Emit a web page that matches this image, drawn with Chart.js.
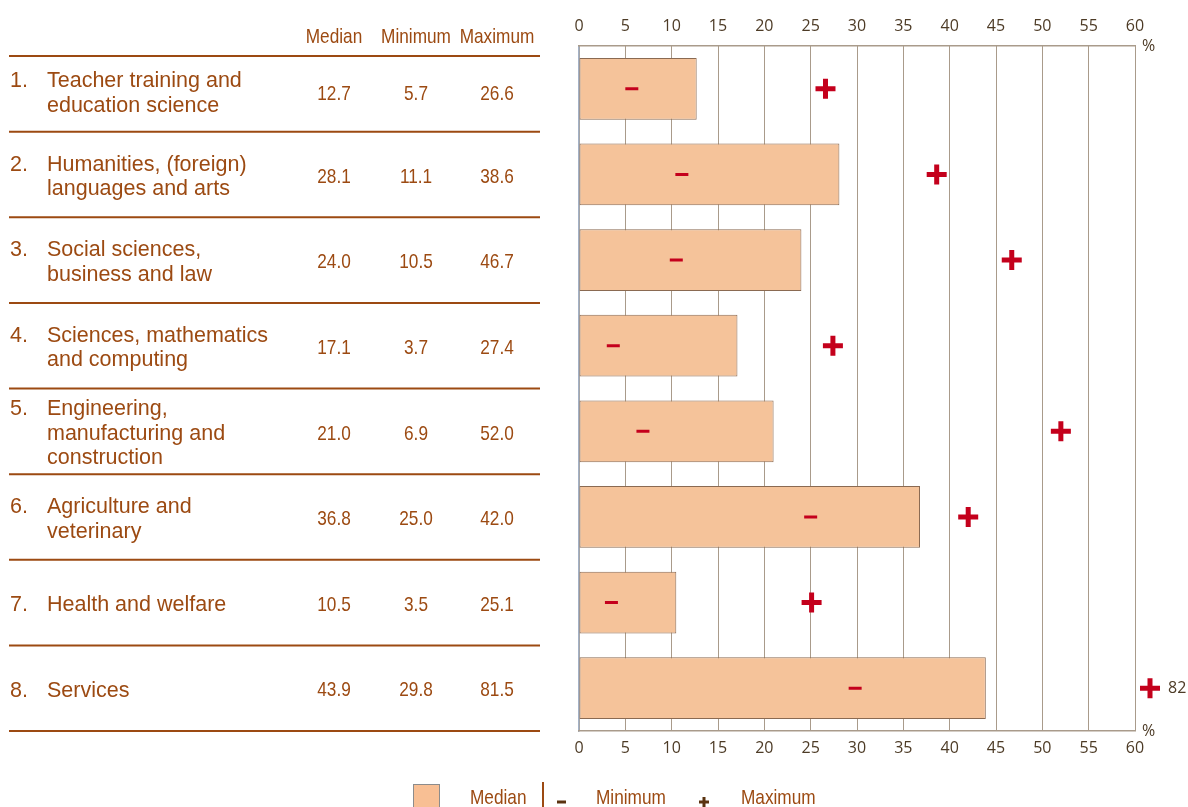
<!DOCTYPE html>
<html>
<head>
<meta charset="utf-8">
<script src="https://cdn.jsdelivr.net/npm/chart.js@4.4.1/dist/chart.umd.min.js"></script>
<style>
  body { margin: 0; background: #fff; }
  canvas { display: block; }
</style>
</head>
<body>
<canvas id="chart" width="1188" height="807"></canvas>
<script>
// values
const fields = [
  ['Teacher training and', 'education science'],
  ['Humanities, (foreign)', 'languages and arts'],
  ['Social sciences,', 'business and law'],
  ['Sciences, mathematics', 'and computing'],
  ['Engineering,', 'manufacturing and', 'construction'],
  ['Agriculture and', 'veterinary'],
  ['Health and welfare'],
  ['Services']
];
const medians = [12.7, 28.1, 24.0, 17.1, 21.0, 36.8, 10.5, 43.9];
const minimums = [5.7, 11.1, 10.5, 3.7, 6.9, 25.0, 3.5, 29.8];
const maximums = [26.6, 38.6, 46.7, 27.4, 52.0, 42.0, 25.1, 81.5];
const tableHeaders = ['Median', 'Minimum', 'Maximum'];
const legendLabels = ['Median', 'Minimum', 'Maximum'];

const BROWN = '#9c4a12';
const RED = '#c4001c';
const TICK = '#4d3b26';
const SANS = '"Liberation Sans", Arial, sans-serif';
const TICKFONT = '"Open Sans", "Noto Sans", sans-serif';

const labels = fields.map((f, i) => (i + 1) + '.');

// no narrow face installed, so squeeze the regular one
function narrowText(ctx, text, x, y, size) {
  ctx.save();
  ctx.font = size + 'px ' + SANS;
  ctx.translate(x, y);
  ctx.scale(0.82, 1);
  ctx.fillText(text, 0, 0);
  ctx.restore();
}

// left hand table: names + numbers, aligned to the category rows
const tablePlugin = {
  id: 'table',
  afterDraw(chart) {
    const ctx = chart.ctx;
    const y = chart.scales.y;
    const cols = [334, 416, 497];
    ctx.save();
    ctx.fillStyle = BROWN;
    ctx.textBaseline = 'middle';

    ctx.textAlign = 'center';
    tableHeaders.forEach((h, i) => narrowText(ctx, h, cols[i], 37, 21));

    ctx.strokeStyle = BROWN;
    ctx.lineWidth = 2;
    const rule = yy => { ctx.beginPath(); ctx.moveTo(9, yy); ctx.lineTo(540, yy); ctx.stroke(); };

    let top = 56;
    rule(top);
    fields.forEach((lines, i) => {
      const cy = y.getPixelForValue(i);
      const next = i < fields.length - 1 ? y.getPixelForValue(i + 1) : cy + (cy - y.getPixelForValue(i - 1));
      const bottom = (cy + next) / 2;
      // first row sits under the thicker header gap, the rest follow the bars
      const mid = i === 0 ? (top + bottom) / 2 - 1 : cy + 1.5;

      ctx.font = '21.5px ' + SANS;
      ctx.textAlign = 'left';
      const lh = 24.5;
      const y0 = mid + 1 - (lines.length - 1) * lh / 2;
      ctx.fillText(labels[i], 10, y0);
      lines.forEach((t, k) => ctx.fillText(t, 47, y0 + k * lh));

      ctx.textAlign = 'center';
      [medians[i], minimums[i], maximums[i]].forEach((v, k) => narrowText(ctx, v.toFixed(1), cols[k], mid + 1, 21));

      rule(bottom);
      top = bottom;
    });

    // percent signs and overflow marker
    const area = chart.chartArea;
    ctx.fillStyle = TICK;
    ctx.font = '16px ' + TICKFONT;
    ctx.textAlign = 'left';
    ctx.fillText('%', area.right + 7, area.top);
    ctx.fillText('%', area.right + 7, area.bottom);

    const x = chart.scales.x;
    maximums.forEach((v, i) => {
      if (v <= x.max) return;
      const px = area.right + 15, py = y.getPixelForValue(i);
      ctx.strokeStyle = RED;
      ctx.lineWidth = 5;
      ctx.beginPath();
      ctx.moveTo(px - 10, py); ctx.lineTo(px + 10, py);
      ctx.moveTo(px, py - 10); ctx.lineTo(px, py + 10);
      ctx.stroke();
      ctx.fillStyle = TICK;
      ctx.fillText(Math.round(v), px + 18, py);
    });

    // legend along the bottom edge
    ctx.fillStyle = '#f8bf94';
    ctx.fillRect(413, 784, 27, 26);
    ctx.strokeStyle = '#8c8c8c';
    ctx.lineWidth = 1;
    ctx.strokeRect(413.5, 784.5, 26, 26);
    ctx.fillStyle = BROWN;
    narrowText(ctx, legendLabels[0], 470, 798, 21);
    narrowText(ctx, legendLabels[1], 596, 798, 21);
    narrowText(ctx, legendLabels[2], 741, 798, 21);
    ctx.strokeStyle = BROWN;
    ctx.lineWidth = 2;
    ctx.beginPath(); ctx.moveTo(543, 782); ctx.lineTo(543, 807); ctx.stroke();
    ctx.strokeStyle = '#5a3310';
    ctx.lineWidth = 3;
    ctx.beginPath(); ctx.moveTo(557, 802); ctx.lineTo(566, 802); ctx.stroke();
    ctx.beginPath();
    ctx.moveTo(699, 802); ctx.lineTo(709, 802);
    ctx.moveTo(704, 797); ctx.lineTo(704, 807);
    ctx.stroke();
    ctx.restore();
  }
};

new Chart(document.getElementById('chart'), {
  type: 'bar',
  data: {
    labels: labels,
    datasets: [
      {
        label: 'Median',
        data: medians,
        backgroundColor: '#f5c39a',
        borderColor: '#8a6a52',
        borderWidth: 1,
        borderSkipped: false,
        categoryPercentage: 1,
        barPercentage: 0.72,
        order: 2
      },
      {
        label: 'Minimum',
        type: 'line',
        indexAxis: 'y',
        data: minimums,
        showLine: false,
        pointStyle: 'line',
        pointRadius: 6.5,
        pointBorderWidth: 3,
        pointBorderColor: RED,
        pointBackgroundColor: RED,
        order: 1
      },
      {
        label: 'Maximum',
        type: 'line',
        indexAxis: 'y',
        data: maximums,
        showLine: false,
        pointStyle: 'cross',
        pointRadius: 10,
        pointBorderWidth: 5,
        pointBorderColor: RED,
        pointBackgroundColor: RED,
        order: 0
      }
    ]
  },
  options: {
    indexAxis: 'y',
    responsive: false,
    animation: false,
    layout: { padding: { left: 0, right: 53, top: 0, bottom: 0 } },
    plugins: {
      legend: { display: false },
      tooltip: { enabled: false }
    },
    scales: {
      y: {
        ticks: { display: false },
        grid: { display: false },
        border: { display: true, color: '#a3b1c6', width: 1.5 },
        afterFit(s) { s.width = 579; }
      },
      x: {
        position: 'bottom',
        min: 0,
        max: 60,
        ticks: { stepSize: 5, color: TICK, padding: 8, font: { family: TICKFONT, size: 16 } },
        grid: { color: '#a99b8b', lineWidth: 1, drawTicks: false },
        border: { display: true, color: '#a99b8b', width: 1.5 },
        afterFit(s) { s.height = 76; }
      },
      xTop: {
        position: 'top',
        min: 0,
        max: 60,
        ticks: { stepSize: 5, color: TICK, padding: 10, font: { family: TICKFONT, size: 16 } },
        grid: { display: false, drawTicks: false },
        border: { display: true, color: '#a99b8b', width: 1.5 },
        afterFit(s) { s.height = 46; }
      }
    }
  },
  plugins: [tablePlugin]
});
</script>
</body>
</html>
